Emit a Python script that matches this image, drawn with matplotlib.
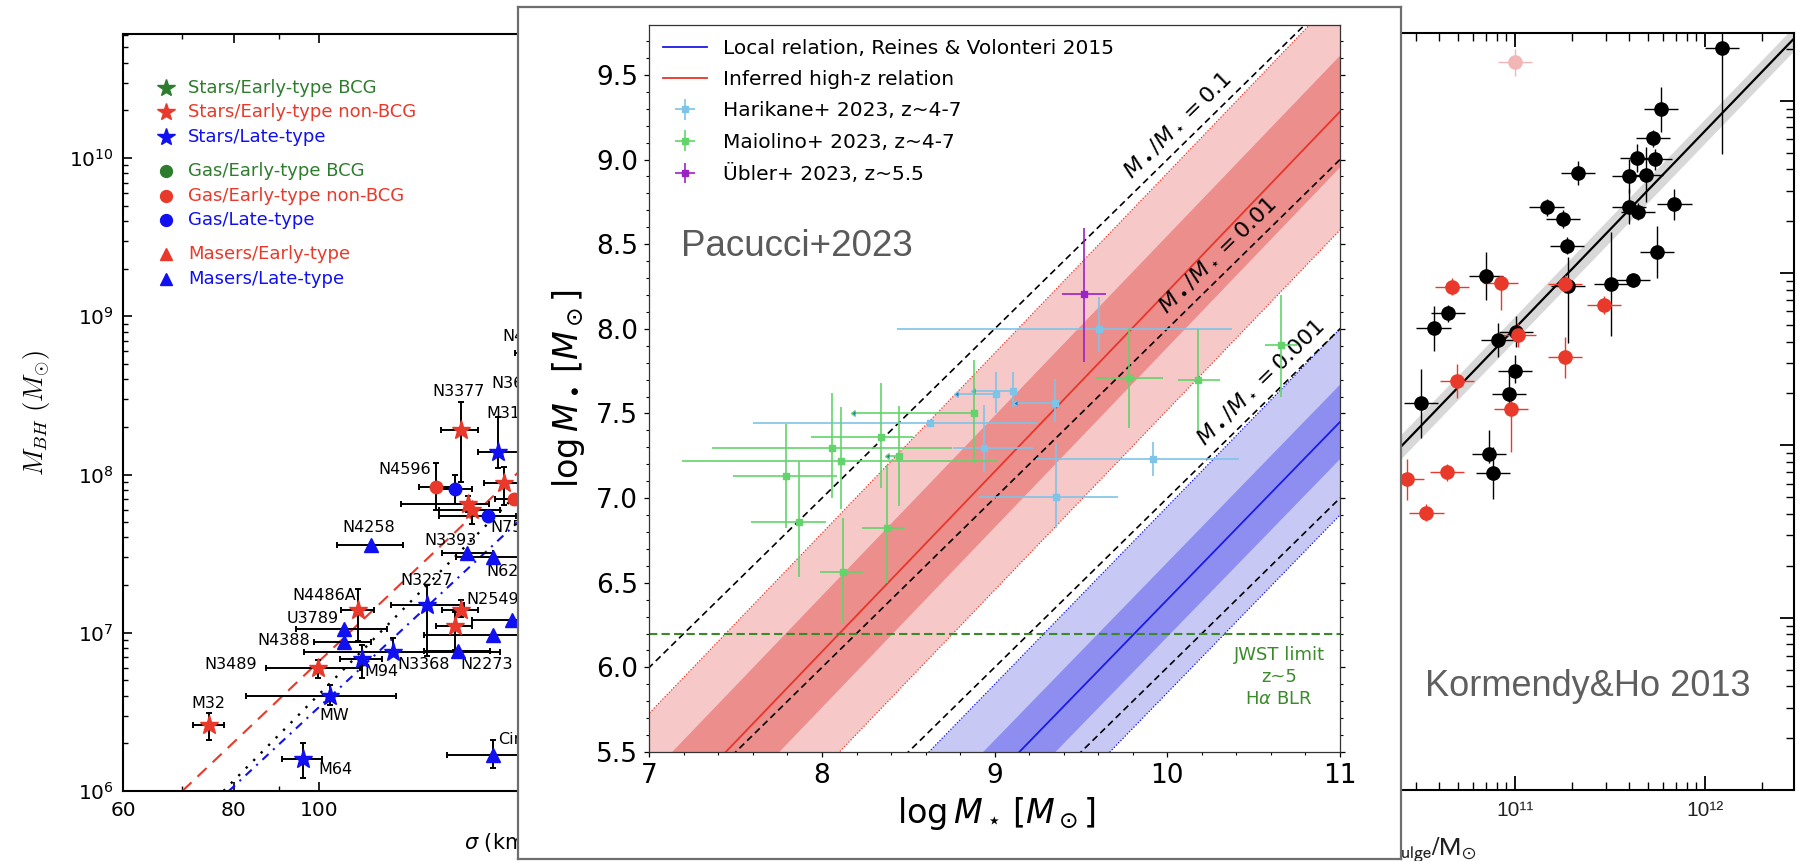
import numpy as np
import matplotlib
matplotlib.use("Agg")
import matplotlib.pyplot as plt
from matplotlib.ticker import LogLocator, NullFormatter, MultipleLocator

W, H = 1799, 861
RED, BLUE, GREEN = "#e8392b", "#1010f0", "#2e7d2e"

# ---------------- left panel: M_BH - sigma ----------------
sig    = [75.0, 95.8, 102.9, 99.6, 111.7, 106.6, 106.6, 110.7, 121.3, 132.3,
          143.6, 144.5, 142.5, 165.1, 157.3, 114.3, 147.0, 157.3, 135.5, 142.5,
          144.5, 147.1, 149.0, 155.3, 161.6, 166.1, 159.4, 157.3, 185.0]
sig_lo = [72.0, 90.7, 82.6, 87.0, 105.6, 98.6, 94.0, 105.8, 96.0, 120.4,
          131.5, 137.7, 135.5, 149.0, 131.5, 104.6, 137.7, 142.8, 129.7, 136.6,
          137.4, 123.6, 136.6, 136.6, 153.5, 158.0, 151.0, 139.6, 166.5]
sig_hi = [78.0, 100.7, 122.2, 111.2, 117.6, 114.3, 119.2, 115.4, 160.0, 145.8,
          156.0, 151.0, 149.0, 182.0, 185.0, 124.5, 157.0, 175.0, 141.7, 149.0,
          151.0, 155.6, 160.0, 167.0, 170.0, 175.0, 170.0, 175.0, 205.0]
# black hole masses in 1e6 Msun
mbh    = [2.6, 1.6, 4.0, 6.0, 6.8, 8.8, 10.6, 13.9, 7.6, 15.0,
          7.7, 14.0, 11.0, 12.0, 9.7, 36.0, 32.0, 30.0, 84.0, 80.5,
          191.0, 65.0, 60.0, 55.0, 88.0, 70.0, 139.0, 1.7, 590.0]
mbh_lo = [2.1, 1.2, 3.5, 5.2, 5.2, 8.8, 10.6, 8.9, 7.1, 7.1,
          7.7, 12.6, 7.8, 12.0, 9.7, 36.0, 32.0, 30.0, 60.0, 65.0,
          90.0, 58.0, 49.0, 55.0, 64.0, 70.0, 110.0, 1.39, 540.0]
mbh_hi = [3.1, 2.0, 4.7, 6.7, 8.4, 8.8, 10.6, 18.8, 9.2, 20.0,
          7.7, 16.0, 13.6, 12.0, 9.7, 36.0, 32.0, 30.0, 119.0, 100.0,
          288.0, 73.0, 67.0, 55.0, 111.0, 72.0, 230.0, 2.1, 640.0]
marker = ['*', '*', '*', '*', '*', '^', '^', '*', '*', '*',
          '^', '*', '*', '^', '^', '^', '^', '^', 'o', 'o',
          '*', '*', '*', 'o', '*', 'o', '*', '^', '*']
colour = ['r', 'b', 'b', 'r', 'b', 'b', 'b', 'r', 'b', 'b',
          'b', 'r', 'r', 'b', 'b', 'b', 'b', 'b', 'r', 'b',
          'r', 'r', 'r', 'b', 'r', 'r', 'b', 'b', 'r']

lab_text = ["M32", "M64", "MW", "N3489", "M94", "N4388", "U3789", "N4486A",
            "N3368", "N3227", "N2273", "N2549", "N4258", "N3393", "N6264",
            "N7582", "N4596", "Circinus", "N3377", "M31", "N3608", "N4026"]
lab_sig = [75.0, 99.8, 100.0, 85.0, 112.4, 97.7, 105.3, 110.2, 122.5, 132.3,
           144.5, 146.5, 113.8, 131.5, 154.4, 156.3, 133.9, 159.4, 143.6,
           154.4, 156.7, 160.9]
lab_mbh = [3.58, 1.36, 3.02, 6.31, 5.68, 9.0, 12.3, 17.1, 6.31, 21.5,
           6.31, 16.3, 46.1, 38.5, 24.3, 46.3, 108.0, 2.12, 333.0, 244.0,
           377.0, 743.0]
lab_ha = ["center", "left", "left", "right", "left", "right", "right", "right",
          "left", "center", "left", "left", "center", "left", "left",
          "left", "right", "left", "center", "left", "left", "left"]

# scaling relations (end points), M in 1e6 Msun
rel_sig0 = [70.0, 77.9, 79.0]
rel_sig1 = [200.0, 200.0, 200.0]
rel_m0 = [1.0, 1.0, 1.0]
rel_m1 = [261.0, 206.0, 125.0]

leg_labels = ["Stars/Early-type BCG", "Stars/Early-type non-BCG", "Stars/Late-type",
              "Gas/Early-type BCG", "Gas/Early-type non-BCG", "Gas/Late-type",
              "Masers/Early-type", "Masers/Late-type"]
leg_marker = ['*', '*', '*', 'o', 'o', 'o', '^', '^']
leg_colour = ['g', 'r', 'b', 'g', 'r', 'b', 'r', 'b']
leg_group = [0, 0, 0, 1, 1, 1, 2, 2]

# ---------------- middle panel: Pacucci+2023 ----------------
hz_icpt, hz_slope, hz_s1, hz_s2 = -2.416, 1.0636, 0.33, 0.70
rv_icpt, rv_slope, rv_s1, rv_s2 = 7.45, 1.05, 0.22, 0.55
ratios = [0.1, 0.01, 0.001, 0.0001]
ratio_lab = ["0.1", "0.01", "0.001", None]
ratio_lab_x = [10.056, 10.287, 10.536, None]
jwst_limit = 6.2

hk_x = [8.625, 8.940, 9.008, 9.108, 9.349, 9.355, 9.603, 9.916]
hk_y = [7.446, 7.294, 7.613, 7.633, 7.564, 7.005, 7.997, 7.229]
hk_xlo = [1.026, 0.180, 0.219, 0.222, 0.222, 0.446, 1.171, 0.677]
hk_xhi = [0.622, 0.284, 0.0, 0.0, 0.0, 0.358, 0.769, 0.499]
hk_ylo = [0.0, 0.138, 0.112, 0.093, 0.112, 0.180, 0.132, 0.100]
hk_yhi = [0.0, 0.256, 0.134, 0.114, 0.138, 0.320, 0.193, 0.100]
hk_uplim = [False, False, True, True, True, False, False, False]

mo_x = [7.790, 7.867, 8.060, 8.108, 8.120, 8.340, 8.378, 8.448, 8.880, 9.779, 10.179, 10.658]
mo_y = [7.131, 6.861, 7.298, 7.219, 6.562, 7.363, 6.822, 7.249, 7.501, 7.712, 7.698, 7.905]
mo_xlo = [0.303, 0.280, 0.699, 0.920, 0.132, 0.403, 0.145, 0.060, 0.689, 0.194, 0.119, 0.093]
mo_xhi = [0.295, 0.157, 0.691, 0.913, 0.120, 0.189, 0.102, 0.0, 0.0, 0.197, 0.126, 0.091]
mo_ylo = [0.309, 0.325, 0.298, 0.283, 0.303, 0.306, 0.325, 0.294, 0.294, 0.300, 0.300, 0.305]
mo_yhi = [0.307, 0.358, 0.325, 0.320, 0.318, 0.318, 0.374, 0.296, 0.313, 0.291, 0.302, 0.295]
mo_uplim = [False, False, False, False, False, False, False, True, True, False, False, False]

ub_x, ub_y = [9.519], [8.204]
ub_xlo, ub_xhi, ub_ylo, ub_yhi = [0.131], [0.125], [0.398], [0.394]

# ---------------- right panel: Kormendy & Ho 2013 (log10 masses) ----------------
kb_x = [12.088, 11.768, 11.725, 11.640, 11.737, 11.333, 11.602, 11.689, 11.600, 11.649,
        11.839, 11.251, 11.275, 11.749, 11.619, 11.504, 11.280, 11.166, 10.847, 10.647,
        10.571, 11.007, 10.913, 11.000, 10.970, 10.506, 10.861, 10.883]
kb_y = [10.308, 9.951, 9.782, 9.666, 9.660, 9.579, 9.564, 9.570, 9.385, 9.357,
        9.399, 9.314, 9.159, 9.121, 8.960, 8.937, 8.925, 9.382, 8.983, 8.767,
        8.680, 8.660, 8.612, 8.434, 8.298, 8.244, 7.950, 7.838]
kb_ylo = [0.62, 0.13, 0.05, 0.08, 0.06, 0.07, 0.10, 0.16, 0.10, 0.05,
          0.09, 0.05, 0.05, 0.15, 0.04, 0.30, 0.33, 0.05, 0.14, 0.05,
          0.13, 0.09, 0.10, 0.07, 0.12, 0.20, 0.05, 0.15]
kb_yhi = [0.30, 0.13, 0.05, 0.08, 0.06, 0.07, 0.10, 0.16, 0.10, 0.05,
          0.09, 0.05, 0.05, 0.15, 0.04, 0.30, 0.17, 0.05, 0.14, 0.05,
          0.13, 0.09, 0.10, 0.09, 0.12, 0.20, 0.14, 0.15]
kr_x = [10.670, 10.924, 11.263, 11.470, 11.263, 10.695, 11.018, 10.978, 10.643, 10.430, 10.534]
kr_y = [8.921, 8.944, 8.937, 8.815, 8.511, 8.374, 8.641, 8.209, 7.844, 7.803, 7.609]
kr_ylo = [0.05, 0.16, 0.05, 0.05, 0.12, 0.10, 0.07, 0.25, 0.05, 0.12, 0.05]
kr_yhi = [0.05, 0.0, 0.05, 0.05, 0.12, 0.10, 0.07, 0.09, 0.05, 0.12, 0.05]
kp_x, kp_y = [11.0], [10.223]
k_xerr = 0.09
kh_a, kh_b, kh_band = 8.68, 1.145, 0.07


fig = plt.figure(figsize=(W / 100, H / 100), dpi=100)


def px_axes(x0, y0, x1, y1):
    return fig.add_axes([x0 / W, 1 - y1 / H, (x1 - x0) / W, (y1 - y0) / H])


def fxy(x, y):
    return x / W, 1 - y / H


cmap = {'r': RED, 'b': BLUE, 'g': GREEN}

# ======== left panel ========
axL = px_axes(123.2, 34, 896.8, 791)
axL.set_xscale("log")
axL.set_yscale("log")
axL.set_xlim(60, 450)
axL.set_ylim(1e6, 10 ** 10.784)

rel_style = [dict(color=RED, ls=(0, (6, 4)), lw=1.5),
             dict(color="k", ls=(0, (1, 3.5)), lw=1.7),
             dict(color=BLUE, ls=(0, (4, 3, 1, 3)), lw=1.5)]
for i in range(3):
    axL.plot([rel_sig0[i], rel_sig1[i]], [rel_m0[i] * 1e6, rel_m1[i] * 1e6], **rel_style[i])

s, slo, shi = np.array(sig), np.array(sig_lo), np.array(sig_hi)
m, mlo, mhi = np.array(mbh) * 1e6, np.array(mbh_lo) * 1e6, np.array(mbh_hi) * 1e6
msize = {'*': 14, '^': 9.5, 'o': 9}
for mk in '*^o':
    for c in 'rbg':
        idx = [i for i in range(len(sig)) if marker[i] == mk and colour[i] == c]
        if not idx:
            continue
        axL.errorbar(s[idx], m[idx], xerr=[s[idx] - slo[idx], shi[idx] - s[idx]],
                     yerr=[m[idx] - mlo[idx], mhi[idx] - m[idx]], fmt=mk, ms=msize[mk],
                     mfc=cmap[c], mec=cmap[c], ecolor="k", elinewidth=1.4,
                     capsize=2.5, capthick=1.4, zorder=3)

for t, sx, my, ha in zip(lab_text, lab_sig, lab_mbh, lab_ha):
    axL.text(sx, my * 1e6, t, ha=ha, va="center", fontsize=11.5)

# legend drawn by hand (grouped rows)
for i, (lab, mk, c, g) in enumerate(zip(leg_labels, leg_marker, leg_colour, leg_group)):
    ypx = 88 + 24.4 * i + 10 * g
    yy = (791 - ypx) / 757
    axL.plot([(166 - 123.2) / 773.6], [yy], mk, color=cmap[c], ms=msize[mk] * 0.95,
             transform=axL.transAxes, clip_on=False)
    axL.text((188 - 123.2) / 773.6, yy, lab, color=cmap[c], fontsize=13,
             va="center", ha="left", transform=axL.transAxes)

axL.set_xticks([60, 80, 100, 200, 300, 400], ["60", "80", "100", "200", "300", "400"])
axL.set_xticks([70, 90], minor=True)
axL.xaxis.set_minor_formatter(NullFormatter())
axL.set_yticks([1e6, 1e7, 1e8, 1e9, 1e10])
axL.yaxis.set_minor_formatter(NullFormatter())
axL.tick_params(which="both", direction="in", top=True, right=True, labelsize=14.5, pad=7)
axL.tick_params(which="major", length=6.5, width=1.2)
axL.tick_params(which="minor", length=3.5, width=1.0)
for sp in axL.spines.values():
    sp.set_linewidth(1.5)
axL.text(*fxy(464, 842), r"$\sigma$ (km s$^{-1}$)", transform=fig.transFigure,
         ha="left", va="center", fontsize=15)
axL.text(*fxy(37, 413), r"$M_{BH}\ (M_{\odot})$", transform=fig.transFigure,
         ha="center", va="center", rotation=90, fontsize=19, math_fontfamily="cm")

# ======== right panel ========
axR = px_axes(1100, 33, 1794, 790)
axR.set_xscale("log")
axR.set_yscale("log")
axR.set_xlim(10 ** 8.816, 10 ** 12.468)
axR.set_ylim(1e6, 10 ** 10.393)

lx = np.array([8.7, 12.6])
fit = kh_a + kh_b * (lx - 11)
axR.fill_between(10 ** lx, 10 ** (fit - kh_band), 10 ** (fit + kh_band), color="#d8d8d8", lw=0)
axR.plot(10 ** lx, 10 ** fit, color="k", lw=1.6)


def kh_points(xl, yl, ylo, yhi, col):
    xl, yl = np.array(xl), np.array(yl)
    ylo, yhi = np.array(ylo), np.array(yhi)
    X, Y = 10 ** xl, 10 ** yl
    axR.errorbar(X, Y, xerr=[X - 10 ** (xl - k_xerr), 10 ** (xl + k_xerr) - X],
                 yerr=[Y - 10 ** (yl - ylo), 10 ** (yl + yhi) - Y], fmt="o", ms=9.5,
                 color=col, mec=col, ecolor=col, elinewidth=1.0, capsize=0, zorder=3)


kh_points(kb_x, kb_y, kb_ylo, kb_yhi, "k")
kh_points(kr_x, kr_y, kr_ylo, kr_yhi, RED)
kh_points(kp_x, kp_y, [0.08], [0.08], "#f2b6b6")

axR.set_xticks([1e9, 1e10, 1e11, 1e12], ["", "", "10\u00b9\u00b9", "10\u00b9\u00b2"])
axR.xaxis.set_minor_locator(LogLocator(base=10, subs=np.arange(2, 10)))
axR.xaxis.set_minor_formatter(NullFormatter())
axR.set_yticks([1e6, 1e7, 1e8, 1e9, 1e10], [""] * 5)
axR.yaxis.set_minor_locator(LogLocator(base=10, subs=np.arange(2, 10)))
axR.yaxis.set_minor_formatter(NullFormatter())
axR.tick_params(which="both", direction="in", top=True, right=True)
axR.tick_params(which="major", length=10, width=1.3)
axR.tick_params(which="minor", length=5.5, width=1.0)
axR.tick_params(axis="x", labelsize=15, pad=8, labelcolor="#222222",
                labelfontfamily="Liberation Sans")
for sp in axR.spines.values():
    sp.set_linewidth(1.5)
axR.text(*fxy(1476, 850), r"$\mathrm{M}_{\mathrm{bulge}}/\mathrm{M}_{\odot}$",
         transform=fig.transFigure, ha="right", va="center", fontsize=19,
         math_fontfamily="stixsans", color="#222222")
axR.text(*fxy(1425, 687), "Kormendy&Ho 2013", transform=fig.transFigure, ha="left",
         va="center", fontsize=26, family="Liberation Sans", color="#5f5f5f")

# ======== middle panel (pasted box) ========
axB = px_axes(518, 7, 1401, 859)
axB.set_xticks([])
axB.set_yticks([])
for sp in axB.spines.values():
    sp.set_color("#6e6e6e")
    sp.set_linewidth(1.6)

axM = px_axes(649.3, 25, 1340, 752)
axM.set_xlim(7, 11)
axM.set_ylim(5.5, 9.795)

xr = np.array([6.5, 11.5])
hz = hz_icpt + hz_slope * xr
rv = rv_icpt + rv_slope * (xr - 11)
axM.fill_between(xr, hz - hz_s2, hz + hz_s2, color="#f6c8c8", lw=0)
axM.fill_between(xr, hz - hz_s1, hz + hz_s1, color="#ec8e8c", lw=0)
axM.fill_between(xr, rv - rv_s2, rv + rv_s2, color="#c8c8f5", lw=0)
axM.fill_between(xr, rv - rv_s1, rv + rv_s1, color="#8e8ef0", lw=0)
for sgn in (-1, 1):
    axM.plot(xr, hz + sgn * hz_s2, color=RED, lw=0.9, ls=(0, (1, 1.5)))
    axM.plot(xr, rv + sgn * rv_s2, color=BLUE, lw=0.9, ls=(0, (1, 1.5)))
axM.plot(xr, rv, color="#1a1ae6", lw=1.3, label="Local relation, Reines & Volonteri 2015")
axM.plot(xr, hz, color="#e8352a", lw=1.3, label="Inferred high-z relation")

for r, lab, lxp in zip(ratios, ratio_lab, ratio_lab_x):
    axM.plot(xr, xr + np.log10(r), color="k", lw=1.2, ls=(0, (4, 2.5)))
    if lab is not None:
        axM.text(lxp, lxp + np.log10(r) + 0.15, r"$M_\bullet/M_\star = %s$" % lab,
                 rotation=45, transform_rotates_text=True, rotation_mode="anchor",
                 ha="center", va="center", fontsize=16)

axM.axhline(jwst_limit, color="#3a8a2a", lw=1.5, ls=(0, (4, 2)))
axM.text(10.647, 5.943, "JWST limit\nz~5\nH$\\alpha$ BLR", ha="center", va="center",
         color="#3b8b2b", fontsize=13, linespacing=1.3)
axM.text(*fxy(681.5, 247), "Pacucci+2023", transform=fig.transFigure, ha="left",
         va="center", fontsize=26.5, family="Liberation Sans", color="#5a5a5a")


def pac_points(x, y, xlo, xhi, ylo, yhi, col, label, uplim=None):
    x, y = np.array(x), np.array(y)
    xlo, xhi, ylo, yhi = map(np.array, (xlo, xhi, ylo, yhi))
    lim = np.zeros(len(x), bool) if uplim is None else np.array(uplim)
    ok = ~lim
    axM.errorbar(x[ok], y[ok], xerr=[xlo[ok], xhi[ok]], yerr=[ylo[ok], yhi[ok]],
                 fmt="s", ms=5, color=col, elinewidth=1.2, capsize=0, label=label, zorder=4)
    if lim.any():
        axM.errorbar(x[lim], y[lim], yerr=[ylo[lim], yhi[lim]], fmt="s", ms=5,
                     color=col, elinewidth=1.2, capsize=0, zorder=4)
        axM.errorbar(x[lim], y[lim], xerr=[xlo[lim], xhi[lim]], xuplims=True,
                     fmt="none", ecolor=col, elinewidth=1.2, capsize=2, zorder=4)


pac_points(hk_x, hk_y, hk_xlo, hk_xhi, hk_ylo, hk_yhi, "#7ec4e8", "Harikane+ 2023, z~4-7", hk_uplim)
pac_points(mo_x, mo_y, mo_xlo, mo_xhi, mo_ylo, mo_yhi, "#62d46b", "Maiolino+ 2023, z~4-7", mo_uplim)
pac_points(ub_x, ub_y, ub_xlo, ub_xhi, ub_ylo, ub_yhi, "#9b22c4", "\u00dcbler+ 2023, z~5.5")

axM.legend(loc="upper left", bbox_to_anchor=(0.01, 0.99), frameon=False, fontsize=14.5,
           handlelength=2.15, handletextpad=0.8, labelspacing=0.6, borderaxespad=0,
           borderpad=0.35)

axM.xaxis.set_major_locator(MultipleLocator(1))
axM.xaxis.set_minor_locator(MultipleLocator(0.2))
axM.yaxis.set_major_locator(MultipleLocator(0.5))
axM.yaxis.set_minor_locator(MultipleLocator(0.1))
axM.tick_params(which="both", direction="out", right=True, labelsize=19, pad=4.5)
axM.tick_params(which="major", length=3.5, width=0.9)
axM.tick_params(which="minor", length=2, width=0.8)
for sp in axM.spines.values():
    sp.set_color("#333333")
    sp.set_linewidth(0.9)
axM.set_xlabel(r"$\log M_\star\,[M_\odot]$", fontsize=24)
axM.xaxis.set_label_coords(0.502, -0.059)
axM.set_ylabel(r"$\log M_\bullet\,[M_\odot]$", fontsize=24)
axM.yaxis.set_label_coords(-0.090, 0.5)
axM.yaxis.label.set_va("bottom")

fig.savefig("out.png", dpi=100)
